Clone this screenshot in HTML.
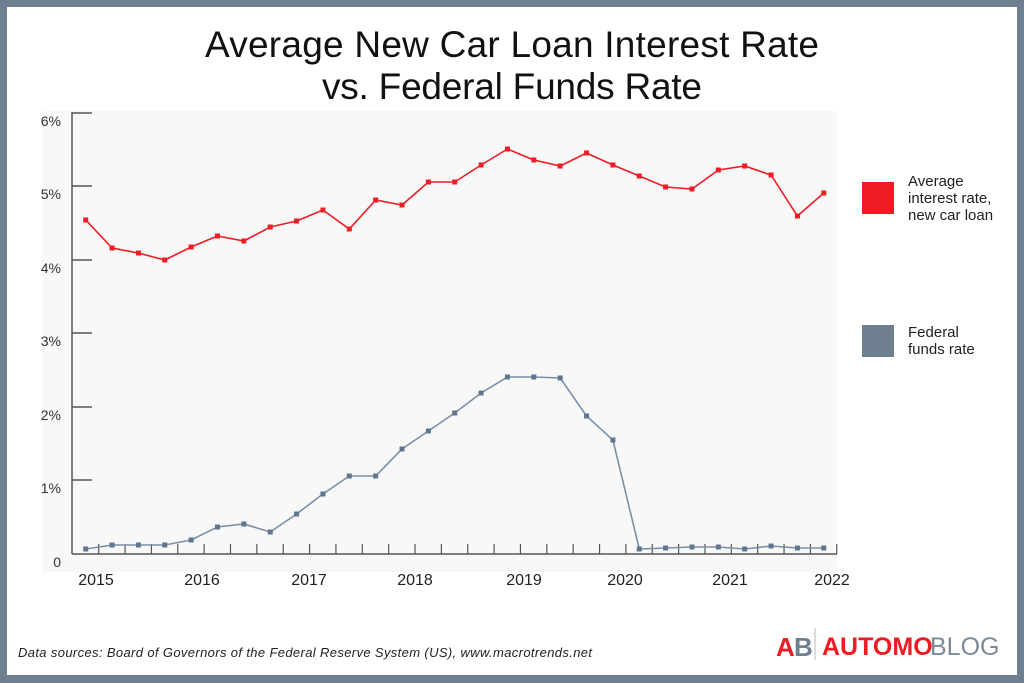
<!DOCTYPE html>
<html><head><meta charset="utf-8"><style>
html,body{margin:0;padding:0;}
body{width:1024px;height:683px;overflow:hidden;background:#6e7f90;position:relative;font-family:"Liberation Sans",sans-serif;}
#card{position:absolute;left:7px;top:7px;width:1010px;height:668px;background:#fff;}
</style></head><body>
<div id="card"></div>
<svg width="1024" height="683" style="position:absolute;left:0;top:0" xmlns="http://www.w3.org/2000/svg">
<rect x="42" y="111" width="795" height="461" fill="#f8f8f8"/>
<text x="512" y="57" text-anchor="middle" font-size="37" fill="#111" textLength="614" font-family="Liberation Sans, sans-serif">Average New Car Loan Interest Rate</text>
<text x="512" y="99" text-anchor="middle" font-size="37" fill="#111" textLength="380" font-family="Liberation Sans, sans-serif">vs. Federal Funds Rate</text>
<g stroke="#555" stroke-width="1.5" fill="none">
<line x1="72" y1="112" x2="72" y2="554"/>
<line x1="72" y1="554" x2="837" y2="554"/>
<line x1="72" y1="113" x2="92" y2="113"/>
<line x1="72" y1="186" x2="92" y2="186"/>
<line x1="72" y1="260" x2="92" y2="260"/>
<line x1="72" y1="333" x2="92" y2="333"/>
<line x1="72" y1="407" x2="92" y2="407"/>
<line x1="72" y1="480" x2="92" y2="480"/>
</g>
<g id="xt" stroke="#555" stroke-width="1.2"></g>
<g font-size="14" fill="#333" text-anchor="end">
<text x="61" y="126">6%</text><text x="61" y="199">5%</text><text x="61" y="273">4%</text>
<text x="61" y="346">3%</text><text x="61" y="420">2%</text><text x="61" y="493">1%</text><text x="61" y="567">0</text>
</g>
<g font-size="16" fill="#222" text-anchor="middle">
<text x="96" y="585">2015</text><text x="202" y="585">2016</text><text x="309" y="585">2017</text><text x="415" y="585">2018</text>
<text x="524" y="585">2019</text><text x="625" y="585">2020</text><text x="730" y="585">2021</text><text x="832" y="585">2022</text>
</g>
<polyline id="red" fill="none" stroke="#ee1c25" stroke-width="1.6"/>
<polyline id="blue" fill="none" stroke="#7a90a8" stroke-width="1.6"/>
<g id="rm" fill="#ee1c25"></g><g id="bm" fill="#5f7690"></g>
<rect x="862" y="182" width="32" height="32" fill="#ed1c24"/>
<rect x="862" y="325" width="32" height="32" fill="#6e7f90"/>
<g font-size="15" fill="#222">
<text x="908" y="186">Average</text><text x="908" y="203">interest rate,</text><text x="908" y="220">new car loan</text>
<text x="908" y="337">Federal</text><text x="908" y="354">funds rate</text>
</g>
<text x="18" y="657" font-size="13" font-style="italic" fill="#222" textLength="574">Data sources: Board of Governors of the Federal Reserve System (US), www.macrotrends.net</text>
<text x="776" y="656" font-size="26" font-weight="bold" fill="#ed1c24">A</text>
<text x="794" y="656" font-size="26" font-weight="bold" fill="#6e7f90">B</text>
<line x1="815" y1="628" x2="815" y2="660" stroke="#bbb"/>
<text x="822" y="655" font-size="25" font-weight="bold" fill="#ed1c24">AUTOMO</text>
<text x="930" y="655" font-size="25" fill="#7a8a9a">BLOG</text>
</svg>
<script>
var R=[220,248,253,260,247,236,241,227,221,210,229,200,205,182,182,165,149,160,166,153,165,176,187,189,170,166,175,216,193];
var B=[549,545,545,545,540,527,524,532,514,494,476,476,449,431,413,393,377,377,378,416,440,549,548,547,547,549,546,548,548];
function X(i){return 85.7+26.36*i;}
function pts(a){return a.map(function(y,i){return X(i).toFixed(1)+","+y}).join(" ");}
document.getElementById("red").setAttribute("points",pts(R));
document.getElementById("blue").setAttribute("points",pts(B));
var ns="http://www.w3.org/2000/svg";
function mk(a,g){a.forEach(function(y,i){var r=document.createElementNS(ns,"rect");r.setAttribute("x",X(i)-2.5);r.setAttribute("y",y-2.5);r.setAttribute("width",5);r.setAttribute("height",5);document.getElementById(g).appendChild(r);});}
mk(R,"rm");mk(B,"bm");
var xt=document.getElementById("xt");
for(var x=98.7;x<=838;x+=26.36){var l=document.createElementNS(ns,"line");l.setAttribute("x1",x);l.setAttribute("x2",x);l.setAttribute("y1",544);l.setAttribute("y2",554);xt.appendChild(l);}
</script>
</body></html>
